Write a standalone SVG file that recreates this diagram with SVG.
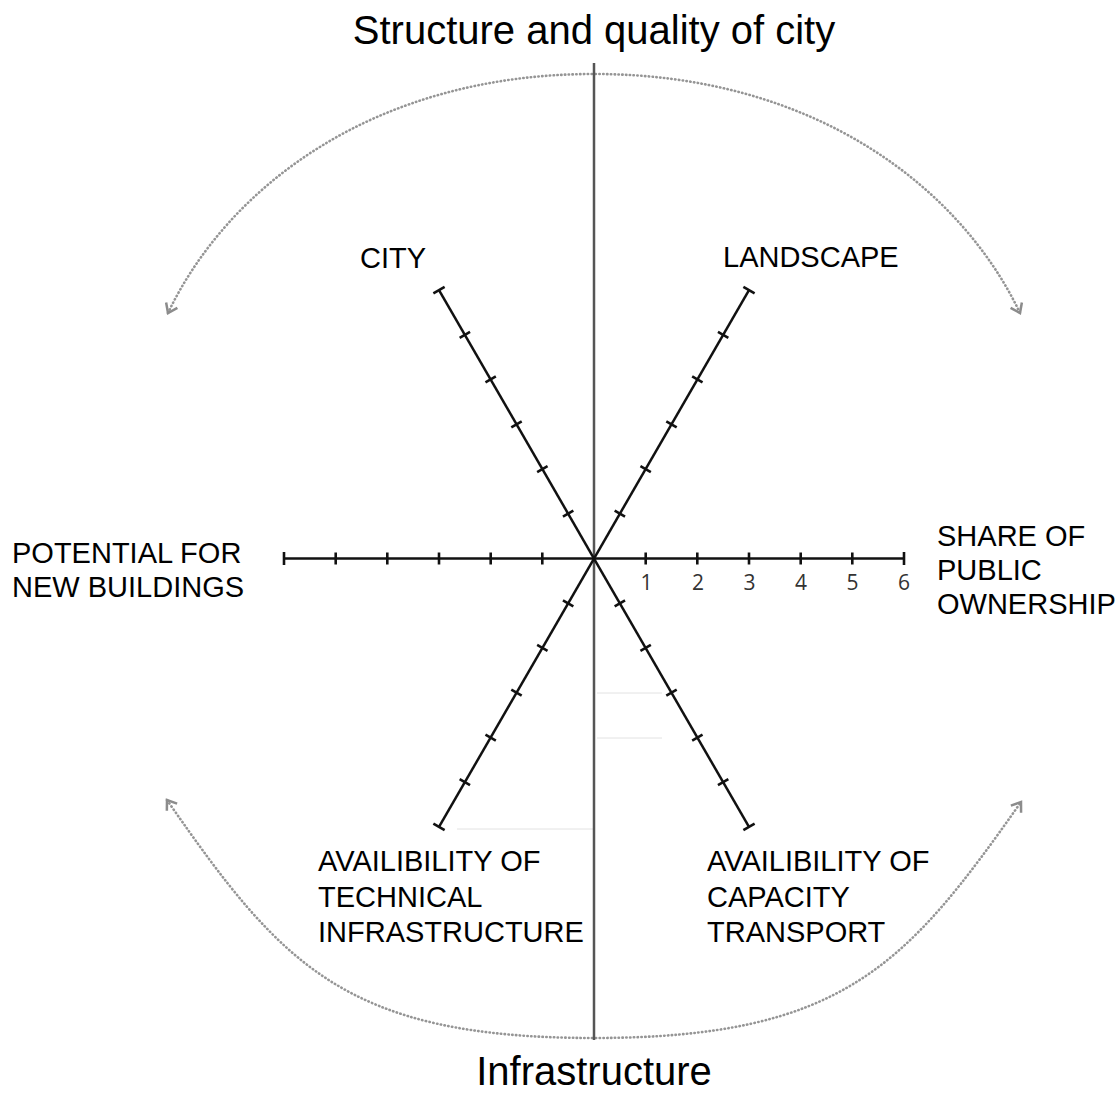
<svg xmlns="http://www.w3.org/2000/svg" xmlns:xlink="http://www.w3.org/1999/xlink" width="1119" height="1094" viewBox="0 0 1119 1094">
<style>
.lbl{font-family:"Liberation Sans",Arial,sans-serif;font-size:29px;fill:#000}
.ttl{font-family:"Liberation Sans",Arial,sans-serif;font-size:40px;fill:#000;text-anchor:middle}
.num{font-family:"Open Sans","DejaVu Sans",sans-serif;font-size:21px;fill:#333;text-anchor:middle}
.axis{stroke:#111;stroke-width:2.5;fill:none}
.tick{stroke:#111;stroke-width:2.6}
.dots{fill:none;stroke:#959595;stroke-width:2.6;stroke-dasharray:0.4 3.4;stroke-linecap:round}
.faint{stroke:#e2e2e2;stroke-width:1}
</style>
<defs>
<marker id="chev" viewBox="0 0 12 12" refX="9" refY="6" markerWidth="15" markerHeight="15" markerUnits="userSpaceOnUse" orient="auto-start-reverse">
<path d="M2,1 L9,6 L2,11" fill="none" stroke="#8c8c8c" stroke-width="2"/>
</marker>
<g id="ax">
<line class="axis" x1="0" y1="0" x2="310" y2="0"/>
<line class="tick" x1="51.7" y1="-6" x2="51.7" y2="6"/>
<line class="tick" x1="103.3" y1="-6" x2="103.3" y2="6"/>
<line class="tick" x1="155" y1="-6" x2="155" y2="6"/>
<line class="tick" x1="206.7" y1="-6" x2="206.7" y2="6"/>
<line class="tick" x1="258.3" y1="-6" x2="258.3" y2="6"/>
<line class="tick" x1="310" y1="-6.5" x2="310" y2="6.5"/>
</g>
</defs>
<rect width="1119" height="1094" fill="#fff"/>
<g id="faint-lines">
<line class="faint" x1="597" y1="693" x2="662" y2="693"/>
<line class="faint" x1="597" y1="738" x2="662" y2="738"/>
<line class="faint" x1="457" y1="829" x2="593" y2="829"/>
</g>
<g id="connectors">
<path class="dots" d="M168,313 C228,187 374,74 594,74 C814,74 960,187 1020,313" marker-start="url(#chev)" marker-end="url(#chev)"/>
<path class="dots" d="M167,800 C281,964 344,1038 594,1038 C844,1038 907,964 1021,802" marker-start="url(#chev)" marker-end="url(#chev)"/>
<line x1="594" y1="63" x2="594" y2="1040" stroke="#555" stroke-width="2.5"/>
</g>
<g id="axes">
<use xlink:href="#ax" transform="translate(594,558.5)"/>
<use xlink:href="#ax" transform="translate(594,558.5) rotate(180)"/>
<use xlink:href="#ax" transform="translate(594,558.5) rotate(-60)"/>
<use xlink:href="#ax" transform="translate(594,558.5) rotate(-120)"/>
<use xlink:href="#ax" transform="translate(594,558.5) rotate(60)"/>
<use xlink:href="#ax" transform="translate(594,558.5) rotate(120)"/>
</g>
<g id="scale">
<text class="num" x="646.5" y="590">1</text>
<text class="num" x="698" y="590">2</text>
<text class="num" x="749.5" y="590">3</text>
<text class="num" x="801" y="590">4</text>
<text class="num" x="852.5" y="590">5</text>
<text class="num" x="904" y="590">6</text>
</g>
<g id="title-top"><text class="ttl" x="594" y="44">Structure and quality of city</text></g>
<g id="title-bottom"><text class="ttl" x="594" y="1085">Infrastructure</text></g>
<g id="node-city"><text class="lbl" x="360" y="268">CITY</text></g>
<g id="node-landscape"><text class="lbl" x="723" y="267">LANDSCAPE</text></g>
<g id="node-public"><text class="lbl" x="937" y="546">SHARE OF</text><text class="lbl" x="937" y="580">PUBLIC</text><text class="lbl" x="937" y="614">OWNERSHIP</text></g>
<g id="node-potential"><text class="lbl" x="12" y="563">POTENTIAL FOR</text><text class="lbl" x="12" y="597">NEW BUILDINGS</text></g>
<g id="node-technical"><text class="lbl" x="318" y="871">AVAILIBILITY OF</text><text class="lbl" x="318" y="907">TECHNICAL</text><text class="lbl" x="318" y="942">INFRASTRUCTURE</text></g>
<g id="node-transport"><text class="lbl" x="707" y="871">AVAILIBILITY OF</text><text class="lbl" x="707" y="907">CAPACITY</text><text class="lbl" x="707" y="942">TRANSPORT</text></g>
</svg>
